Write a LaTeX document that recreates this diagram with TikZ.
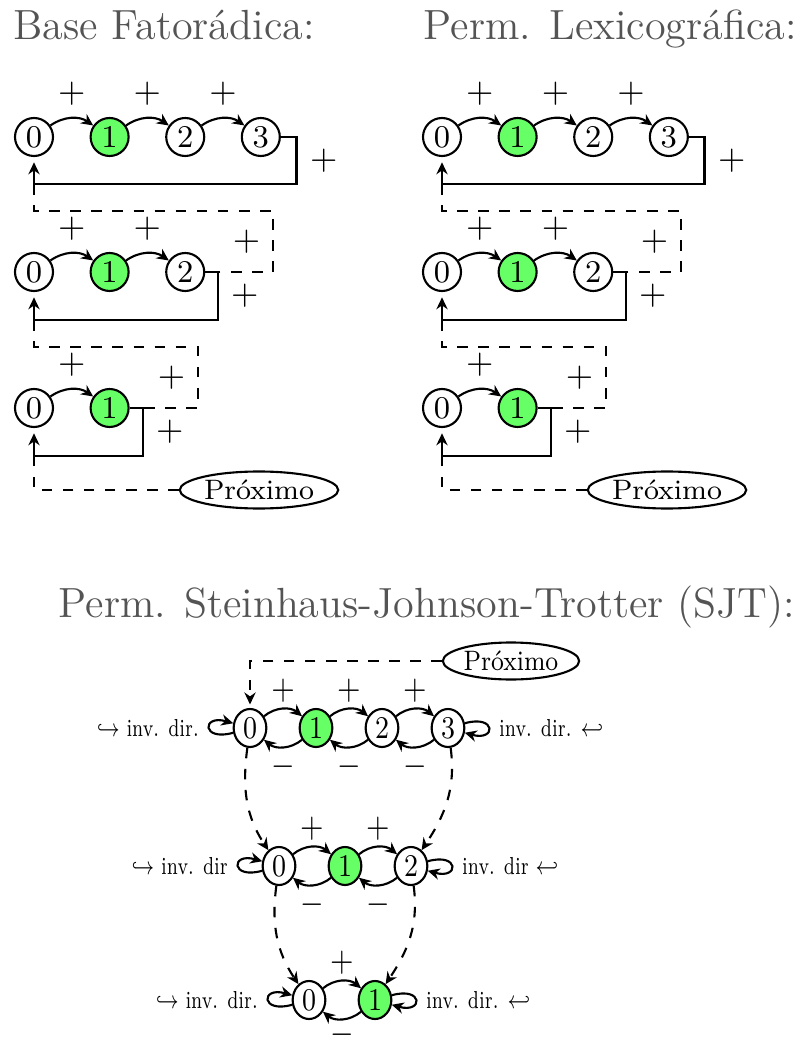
\documentclass[tikz,border=0pt]{standalone}
\usepackage{amssymb}
\usepackage{tikz}
\usetikzlibrary{arrows.meta,positioning,shapes.geometric}
\usepackage{xcolor}

\begin{document}
\begin{tikzpicture}[
    node distance=0.355cm,
    numnode/.style={
        circle,
        draw=black,
        semithick,
        minimum size=0.38cm,
        inner sep=0pt,
        font=\small
    },
    greennode/.style={numnode, fill=green!60},
    nextbox/.style={ellipse, draw=black, semithick, inner sep=0.3pt, minimum height=0.37cm, font=\footnotesize},
    titletext/.style={anchor=base west, inner sep=0pt, font=\large, text=black!67},
    sjt/.style={xscale=0.86},
    invtext/.style={xscale=0.72, font=\scriptsize},
    uplabel/.style={above, sjt, inner sep=1.5pt},
    downlabel/.style={below, sjt, inner sep=2pt},
    arrow/.style={-{Stealth[length=3.4pt, width=3.2pt]}, semithick},
    backline/.style={arrow, thick, shorten >=1.5pt},
    jumpline/.style={dashed, semithick},
    every loop/.style={},
    selfloop/.style={min distance=3.3mm, looseness=3}
]
\useasboundingbox (0,0) rectangle (8.03,-10.40);

% Base Fatoradica
\node[titletext] (fat) at (0.13,-0.40) {Base Fatorádica:};

\node[numnode] (fa0) at (0.34,-1.37) {0};
\node[greennode, right=of fa0] (fa1) {1};
\node[numnode, right=of fa1] (fa2) {2};
\node[numnode, right=of fa2] (fa3) {3};
\coordinate (fab) at (0.34,-1.84);

\draw[arrow] (fa0) to[bend left=35] node[above] {$+$} (fa1);
\draw[arrow] (fa1) to[bend left=35] node[above] {$+$} (fa2);
\draw[arrow] (fa2) to[bend left=35] node[above] {$+$} (fa3);
\draw[backline] (fa3.east) -- ++(0.16,0) |- node[pos=0.25, right] {$+$} (fab) -- (fa0);

\node[numnode] (fb0) at (0.34,-2.72) {0};
\node[greennode, right=of fb0] (fb1) {1};
\node[numnode, right=of fb1] (fb2) {2};
\coordinate (fbj) at (2.18,-2.72);
\coordinate (fbd) at (2.73,-2.11);
\coordinate (fbb) at (0.34,-3.20);

\draw[jumpline] (fab) |- (fbd) -- node[left] {$+$} (fbd |- fbj) -- (fbj);
\draw[arrow] (fb0) to[bend left=35] node[above] {$+$} (fb1);
\draw[arrow] (fb1) to[bend left=35] node[above] {$+$} (fb2);
\draw[backline] (fb2.east) -- (fbj) |- node[pos=0.25, right] {$+$} (fbb) -- (fb0);

\node[numnode] (fc0) at (0.34,-4.08) {0};
\node[greennode, right=of fc0] (fc1) {1};
\coordinate (fcj) at (1.43,-4.08);
\coordinate (fcd) at (1.98,-3.47);
\coordinate (fcb) at (0.34,-4.56);

\draw[jumpline] (fbb) |- (fcd) -- node[left] {$+$} (fcd |- fcj) -- (fcj);
\draw[arrow] (fc0) to[bend left=35] node[above] {$+$} (fc1);
\draw[backline] (fc1.east) -- (fcj) |- node[pos=0.25, right] {$+$} (fcb) -- (fc0);

\node[nextbox] (fn) at (2.59,-4.90) {Próximo};
\draw[jumpline] (fn) -| (fcb);

% Perm. Lexicografica
\begin{scope}[xshift=4.08cm]
\node[titletext] (lex) at (0.15,-0.40) {Perm. Lexicográfica:};

\node[numnode] (la0) at (0.34,-1.37) {0};
\node[greennode, right=of la0] (la1) {1};
\node[numnode, right=of la1] (la2) {2};
\node[numnode, right=of la2] (la3) {3};
\coordinate (lab) at (0.34,-1.84);

\draw[arrow] (la0) to[bend left=35] node[above] {$+$} (la1);
\draw[arrow] (la1) to[bend left=35] node[above] {$+$} (la2);
\draw[arrow] (la2) to[bend left=35] node[above] {$+$} (la3);
\draw[backline] (la3.east) -- ++(0.16,0) |- node[pos=0.25, right] {$+$} (lab) -- (la0);

\node[numnode] (lb0) at (0.34,-2.72) {0};
\node[greennode, right=of lb0] (lb1) {1};
\node[numnode, right=of lb1] (lb2) {2};
\coordinate (lbj) at (2.18,-2.72);
\coordinate (lbd) at (2.73,-2.11);
\coordinate (lbb) at (0.34,-3.20);

\draw[jumpline] (lab) |- (lbd) -- node[left] {$+$} (lbd |- lbj) -- (lbj);
\draw[arrow] (lb0) to[bend left=35] node[above] {$+$} (lb1);
\draw[arrow] (lb1) to[bend left=35] node[above] {$+$} (lb2);
\draw[backline] (lb2.east) -- (lbj) |- node[pos=0.25, right] {$+$} (lbb) -- (lb0);

\node[numnode] (lc0) at (0.34,-4.08) {0};
\node[greennode, right=of lc0] (lc1) {1};
\coordinate (lcj) at (1.43,-4.08);
\coordinate (lcd) at (1.98,-3.47);
\coordinate (lcb) at (0.34,-4.56);

\draw[jumpline] (lbb) |- (lcd) -- node[left] {$+$} (lcd |- lcj) -- (lcj);
\draw[arrow] (lc0) to[bend left=35] node[above] {$+$} (lc1);
\draw[backline] (lc1.east) -- (lcj) |- node[pos=0.25, right] {$+$} (lcb) -- (lc0);

\node[nextbox] (ln) at (2.59,-4.90) {Próximo};
\draw[jumpline] (ln) -| (lcb);
\end{scope}

% Perm. SJT
\node[titletext] (sjtt) at (0.58,-6.17) {Perm. Steinhaus-Johnson-Trotter (SJT):};

\node[nextbox, sjt] (sn) at (5.11,-6.61) {Próximo};

\node[numnode, sjt] (sa0) at (2.50,-7.28) {0};
\node[greennode, sjt, right=0.315cm of sa0] (sa1) {1};
\node[numnode, sjt, right=0.315cm of sa1] (sa2) {2};
\node[numnode, sjt, right=0.315cm of sa2] (sa3) {3};
\node[invtext, left=0.25cm of sa0] (sal) {$\hookrightarrow$ inv. dir.};
\node[invtext, right=0.25cm of sa3] (sar) {inv. dir. $\hookleftarrow$};

\draw[arrow, dashed, shorten >=1pt] (sn) -| (sa0);
\draw[arrow] (sa0) to[bend left=40] node[uplabel] {$+$} (sa1);
\draw[arrow] (sa1) to[bend left=40] node[uplabel] {$+$} (sa2);
\draw[arrow] (sa2) to[bend left=40] node[uplabel] {$+$} (sa3);
\draw[arrow] (sa1) to[bend left=40] node[downlabel] {$-$} (sa0);
\draw[arrow] (sa2) to[bend left=40] node[downlabel] {$-$} (sa1);
\draw[arrow] (sa3) to[bend left=40] node[downlabel] {$-$} (sa2);
\draw[arrow] (sa0) to[loop left, selfloop] (sa0);
\draw[arrow] (sa3) to[loop right, selfloop] (sa3);

\node[numnode, sjt] (sb0) at (2.79,-8.66) {0};
\node[greennode, sjt, right=0.315cm of sb0] (sb1) {1};
\node[numnode, sjt, right=0.315cm of sb1] (sb2) {2};
\node[invtext, left=0.25cm of sb0] (sbl) {$\hookrightarrow$ inv. dir};
\node[invtext, right=0.25cm of sb2] (sbr) {inv. dir $\hookleftarrow$};

\draw[arrow, dashed] (sa0) to[out=262, in=125] (sb0);
\draw[arrow, dashed] (sa3) to[out=278, in=55] (sb2);
\draw[arrow] (sb0) to[bend left=40] node[uplabel] {$+$} (sb1);
\draw[arrow] (sb1) to[bend left=40] node[uplabel] {$+$} (sb2);
\draw[arrow] (sb1) to[bend left=40] node[downlabel] {$-$} (sb0);
\draw[arrow] (sb2) to[bend left=40] node[downlabel] {$-$} (sb1);
\draw[arrow] (sb0) to[loop left, selfloop] (sb0);
\draw[arrow] (sb2) to[loop right, selfloop] (sb2);

\node[numnode, sjt] (sc0) at (3.09,-10.00) {0};
\node[greennode, sjt, right=0.315cm of sc0] (sc1) {1};
\node[invtext, left=0.25cm of sc0] (scl) {$\hookrightarrow$ inv. dir.};
\node[invtext, right=0.25cm of sc1] (scr) {inv. dir. $\hookleftarrow$};

\draw[arrow, dashed] (sb0) to[out=262, in=125] (sc0);
\draw[arrow, dashed] (sb2) to[out=278, in=55] (sc1);
\draw[arrow] (sc0) to[bend left=40] node[uplabel] {$+$} (sc1);
\draw[arrow] (sc1) to[bend left=40] node[downlabel, inner sep=1pt] {$-$} (sc0);
\draw[arrow] (sc0) to[loop left, selfloop] (sc0);
\draw[arrow] (sc1) to[loop right, selfloop] (sc1);

\end{tikzpicture}
\end{document}
